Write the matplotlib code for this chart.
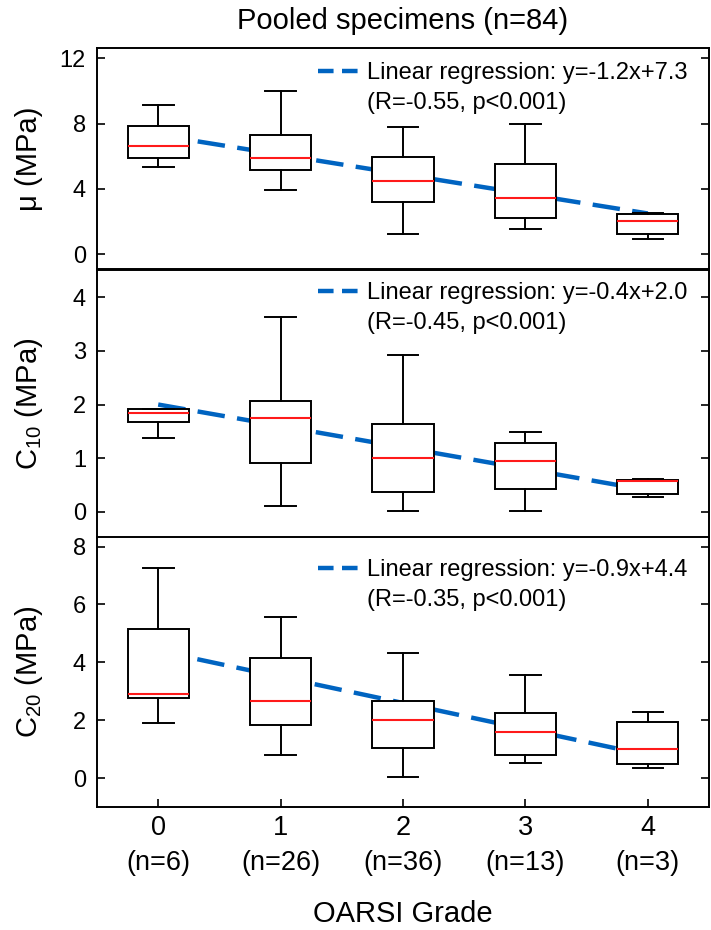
import matplotlib
matplotlib.use("Agg")
import matplotlib.pyplot as plt
from matplotlib.lines import Line2D
import numpy as np

plt.rcParams['font.family'] = ['Liberation Sans', 'DejaVu Sans']
plt.rcParams['mathtext.fontset'] = 'custom'
plt.rcParams['mathtext.rm'] = 'Liberation Sans'
plt.rcParams['mathtext.it'] = 'Liberation Sans'

# ---------------- data ----------------
grades = [0, 1, 2, 3, 4]
group_n = [6, 26, 36, 13, 3]
title = "Pooled specimens (n=84)"
xlabel = "OARSI Grade"
ylabels = ["μ (MPa)", r"C$_{10}$ (MPa)", r"C$_{20}$ (MPa)"]

# mu (MPa)
mu_whislo = [5.35, 3.92, 1.26, 1.55, 0.94]
mu_q1 = [5.88, 5.16, 3.22, 2.24, 1.24]
mu_med = [6.63, 5.90, 4.47, 3.47, 2.02]
mu_q3 = [7.84, 7.31, 5.96, 5.51, 2.45]
mu_whishi = [9.16, 9.98, 7.81, 7.96, 2.55]

# C10 (MPa)
c10_whislo = [1.38, 0.11, 0.01, 0.02, 0.27]
c10_q1 = [1.68, 0.90, 0.36, 0.42, 0.34]
c10_med = [1.85, 1.74, 1.00, 0.94, 0.57]
c10_q3 = [1.92, 2.07, 1.64, 1.29, 0.59]
c10_whishi = [1.92, 3.63, 2.93, 1.49, 0.61]

# C20 (MPa)
c20_whislo = [1.92, 0.82, 0.04, 0.54, 0.36]
c20_q1 = [2.76, 1.83, 1.04, 0.79, 0.50]
c20_med = [2.92, 2.68, 2.02, 1.59, 1.00]
c20_q3 = [5.16, 4.17, 2.68, 2.25, 1.94]
c20_whishi = [7.27, 5.57, 4.34, 3.56, 2.28]

slopes = [-1.2, -0.4, -0.9]
intercepts = [7.3, 2.0, 4.4]
reg_labels = ["Linear regression: y=-1.2x+7.3", "Linear regression: y=-0.4x+2.0",
              "Linear regression: y=-0.9x+4.4"]
stat_labels = ["(R=-0.55, p<0.001)", "(R=-0.45, p<0.001)", "(R=-0.35, p<0.001)"]

yticks = [[0, 4, 8, 12], [0, 1, 2, 3, 4], [0, 2, 4, 6, 8]]
ylims = [(-0.9, 12.63), (-0.49, 4.51), (-0.99, 8.33)]

panels = [
    (mu_whislo, mu_q1, mu_med, mu_q3, mu_whishi),
    (c10_whislo, c10_q1, c10_med, c10_q3, c10_whishi),
    (c20_whislo, c20_q1, c20_med, c20_q3, c20_whishi),
]

# ---------------- figure ----------------
W, H = 711, 930
fig = plt.figure(figsize=(W / 100, H / 100), dpi=100)

left_px, right_px = 97, 709
rows_px = [(48, 269), (270, 538), (537, 807)]
legend_top_px = [14, 12, 22]

blue = '#0064C1'
FS_YTICK = 17
FS_XTICK = 19.5
FS_LABEL = 21
FS_LEG = 17

for i, (ax_top, ax_bot) in enumerate(rows_px):
    ax = fig.add_axes([left_px / W, (H - ax_bot) / H,
                       (right_px - left_px) / W, (ax_bot - ax_top) / H])
    lo, q1, med, q3, hi = panels[i]
    stats = []
    for k in range(len(grades)):
        stats.append(dict(whislo=lo[k], q1=q1[k], med=med[k], q3=q3[k],
                          whishi=hi[k], fliers=[]))
    xs = np.array([grades[0], grades[-1]], dtype=float)
    ax.plot(xs, slopes[i] * xs + intercepts[i], color=blue, lw=3.2,
            linestyle=(0, (6.2, 2.8)), zorder=1, dash_capstyle='butt')
    ax.bxp(stats, positions=grades, widths=0.5, patch_artist=True,
           showfliers=False, manage_ticks=False,
           boxprops=dict(facecolor='white', edgecolor='black', linewidth=1.4),
           medianprops=dict(color='#FF1A1A', linewidth=1.5),
           whiskerprops=dict(color='black', linewidth=1.4),
           capprops=dict(color='black', linewidth=1.4), zorder=2)

    ax.set_xlim(-0.5, 4.5)
    ax.set_ylim(*ylims[i])
    ax.set_yticks(yticks[i])
    ax.set_xticks(grades)
    ax.tick_params(axis='y', direction='in', length=6, width=1.2,
                   labelsize=FS_YTICK, pad=8, left=True, right=True)
    if i == 2:
        ax.set_xticklabels([f"{g}\n(n={n})" for g, n in zip(grades, group_n)],
                           linespacing=1.45)
        ax.tick_params(axis='x', direction='in', length=6, width=1.2,
                       labelsize=FS_XTICK, pad=6, bottom=True, top=False)
        ax.set_xlabel(xlabel, fontsize=FS_LABEL)
        ax.xaxis.label.set_va('center')
        ax.xaxis.set_label_coords(0.5, -(914 - ax_bot) / (ax_bot - ax_top))
    else:
        ax.tick_params(axis='x', bottom=False, top=False, labelbottom=False)
    for sp in ax.spines.values():
        sp.set_linewidth(1.4)

    fig.text(29 / W, (H - (ax_top + ax_bot) / 2) / H, ylabels[i],
             rotation=90, ha='center', va='center', fontsize=FS_LABEL)

    h1 = Line2D([], [], color=blue, lw=3.2, linestyle=(0, (3.5, 1.9)),
                dash_capstyle='butt')
    h2 = Line2D([], [], color='none', lw=0)
    hpx = ax_bot - ax_top
    ax.legend([h1, h2], [reg_labels[i], stat_labels[i]], loc='upper left',
              bbox_to_anchor=((318 - left_px) / (right_px - left_px),
                              1 - legend_top_px[i] / hpx),
              frameon=False, fontsize=FS_LEG, borderpad=0, borderaxespad=0,
              handlelength=1.69, handletextpad=0.37, labelspacing=0.33)

fig.text((left_px + right_px) / 2 / W, (H - 21) / H, title,
         ha='center', va='center', fontsize=FS_LABEL)

fig.savefig("out.png", dpi=100)
